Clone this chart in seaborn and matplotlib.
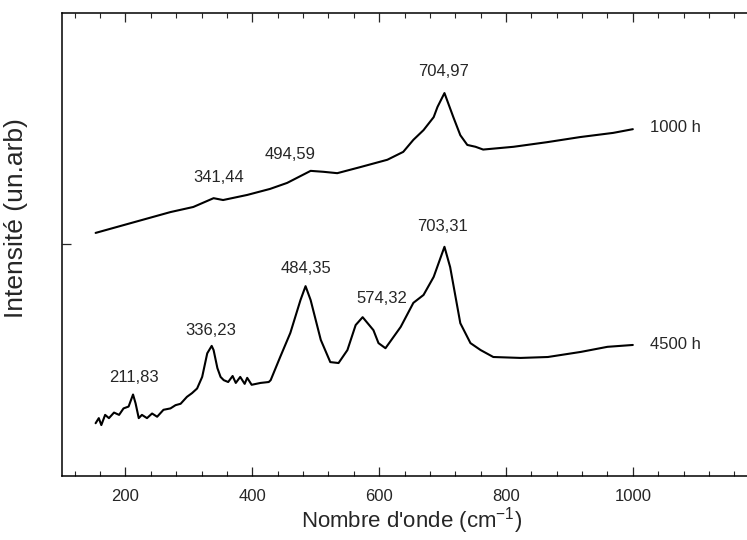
import pandas as pd
import seaborn as sns
import matplotlib.pyplot as plt
import matplotlib.ticker as ticker

# spectrum after 1000 h
x_1000 = [153, 208, 271, 307, 339, 354, 392, 428, 455, 492, 512, 534, 570, 613,
          638, 654, 670, 686, 692, 703, 717, 728, 739, 752, 764, 812, 865, 917, 969, 1000]
y_1000 = [52.5, 54.6, 57.0, 58.1, 60.0, 59.6, 60.7, 62.0, 63.3, 65.9, 65.7, 65.4, 66.7, 68.3,
          70.0, 72.6, 74.7, 77.5, 79.7, 82.7, 77.5, 73.6, 71.5, 71.1, 70.5, 71.1, 72.1, 73.2, 74.1, 74.9]

# spectrum after 4500 h
x_4500 = [153, 158, 162, 168, 174, 182, 190, 197, 205, 212, 216, 221, 226, 234, 242, 250,
          260, 271, 279, 287, 297, 305, 313, 321, 329, 336, 339, 345, 350, 355,
          362, 369, 374, 381, 388, 392, 399, 413, 426, 429, 444, 460, 476, 484, 492,
          508, 523, 536, 550, 563, 574, 591, 599, 610, 634, 654, 670, 686, 703, 712,
          728, 744, 760, 780, 823, 866, 918, 960, 1000]
y_4500 = [11.4, 12.5, 11.0, 13.2, 12.5, 13.7, 13.2, 14.6, 15.0, 17.6, 15.7, 12.5, 13.2, 12.5, 13.5, 12.8,
          14.3, 14.6, 15.3, 15.6, 17.1, 17.9, 18.9, 21.4, 26.5, 28.1, 27.2, 23.3, 21.4, 20.7,
          20.3, 21.6, 20.1, 21.4, 19.9, 21.2, 19.7, 20.1, 20.3, 20.7, 25.7, 30.9, 38.0, 41.0, 38.0,
          29.4, 24.6, 24.4, 27.2, 32.6, 34.3, 31.5, 28.7, 27.6, 32.2, 37.4, 39.1, 43.0, 49.5, 45.1,
          33.0, 28.7, 27.2, 25.7, 25.5, 25.7, 26.8, 27.9, 28.3]

peak_labels = ['704,97', '494,59', '341,44', '703,31', '484,35', '574,32', '336,23', '211,83']
peak_x = [701, 460, 347, 700, 484, 605, 334, 213]
peak_y = [87.3, 69.5, 64.4, 53.8, 44.9, 38.4, 31.5, 21.2]

series_names = ['1000 h', '4500 h']
series_label_y = [75.2, 28.3]

df = pd.concat([
    pd.DataFrame({'wavenumber': x_1000, 'intensity': y_1000, 'sample': '1000 h'}),
    pd.DataFrame({'wavenumber': x_4500, 'intensity': y_4500, 'sample': '4500 h'}),
])

sns.set_style('ticks')
plt.rcParams['font.family'] = ['Liberation Sans', 'DejaVu Sans']
plt.rcParams['mathtext.fontset'] = 'custom'
plt.rcParams['mathtext.rm'] = 'Liberation Sans'
plt.rcParams['mathtext.it'] = 'Liberation Sans'

fig = plt.figure(figsize=(7.47, 5.40), dpi=100)
ax = fig.add_axes([0.083, 0.1185, 0.917, 0.8575])

sns.lineplot(data=df, x='wavenumber', y='intensity', hue='sample', units='sample',
             estimator=None, sort=False, palette={'1000 h': 'black', '4500 h': 'black'},
             linewidth=1.5, legend=False, ax=ax)

for lab, px, py in zip(peak_labels, peak_x, peak_y):
    ax.text(px, py, lab, fontsize=12, ha='center', va='center')
for name, py in zip(series_names, series_label_y):
    ax.text(1027, py, name, fontsize=12, ha='left', va='center')

ax.set_xlim(100, 1180)
ax.set_ylim(0, 100)
ax.xaxis.set_major_locator(ticker.FixedLocator([200, 400, 600, 800, 1000]))
ax.xaxis.set_minor_locator(ticker.MultipleLocator(40))
ax.set_yticks([50])
ax.set_yticklabels([])

ax.tick_params(axis='x', which='major', direction='in', length=6.3, width=0.9,
               top=True, bottom=True, labelsize=12, pad=9)
ax.tick_params(axis='x', which='minor', direction='in', length=3.3, width=0.8,
               top=True, bottom=True)
ax.tick_params(axis='y', which='major', direction='in', length=6.5, width=0.9,
               left=True, right=False)

for side in ['left', 'bottom', 'top']:
    ax.spines[side].set_linewidth(1.1)
    ax.spines[side].set_color('black')
ax.spines['right'].set_visible(False)

ax.set_xlabel("Nombre d'onde (cm$^{\\mathrm{-1}}$)", fontsize=16)
ax.set_ylabel('Intensité (un.arb)', fontsize=19)
ax.xaxis.set_label_coords(0.511, -0.062)
ax.yaxis.set_label_coords(-0.05, 0.557)

fig.savefig('out.png', dpi=100)
